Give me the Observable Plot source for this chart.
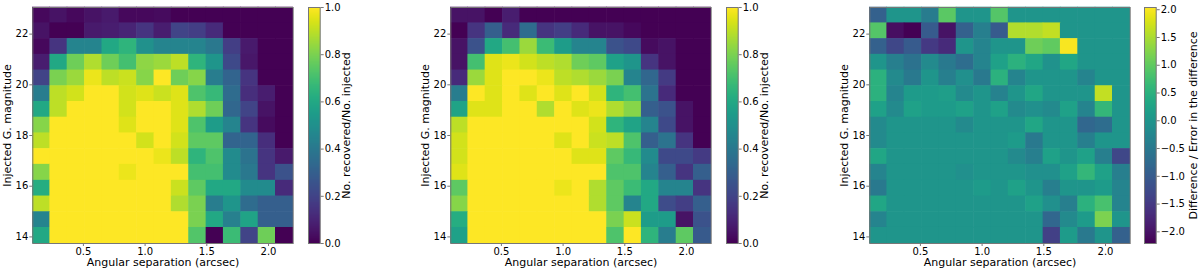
<!DOCTYPE html>
<html>
<head>
<meta charset="utf-8">
<script src="https://cdn.jsdelivr.net/npm/d3@7"></script>
<script src="https://cdn.jsdelivr.net/npm/@observablehq/plot@0.6"></script>
<style>
  html, body { margin: 0; padding: 0; background: white; }
  #wrap { position: relative; width: 1200px; height: 272px; overflow: hidden; }
  #wrap > div { position: absolute; top: 0; }
  #wrap svg { max-width: none !important; }
</style>
</head>
<body>
<div id="wrap"></div>
<script>
// ---- bin edges (arcsec, magnitude) ----
const xEdges = [0.09, 0.231, 0.371, 0.512, 0.653, 0.793, 0.934, 1.075, 1.215, 1.356, 1.497, 1.637, 1.778, 1.919, 2.059, 2.2];
const yEdges = [13.74, 14.36, 14.98, 15.60, 16.22, 16.85, 17.47, 18.09, 18.71, 19.33, 19.95, 20.57, 21.19, 21.81, 22.43, 23.05];
const xTicks = [0.5, 1.0, 1.5, 2.0];
const yTicks = [14, 16, 18, 20, 22];
const cbTicks12 = [0, 0.2, 0.4, 0.6, 0.8, 1.0];
const cbTicks3 = [-2.0, -1.5, -1.0, -0.5, 0.0, 0.5, 1.0, 1.5, 2.0];

// ---- panel 1: recovered fraction (rows listed top = faint to bottom = bright) ----
const recovered1 = [
  [0.02,0.05,0.02,0.05,0.07,0.02,0.02,0.03,0,0,0,0,0,0,0],
  [0.05,0,0,0.07,0.08,0.1,0.15,0.08,0.2,0.18,0.12,0,0,0,0],
  [0.02,0.15,0.45,0.45,0.6,0.65,0.5,0.45,0.45,0.45,0.4,0.18,0.07,0,0],
  [0.08,0.6,0.78,0.88,0.78,0.7,0.83,0.85,0.9,0.65,0.52,0.22,0.06,0,0],
  [0.2,0.8,0.85,0.97,0.9,0.92,0.82,1,0.78,0.82,0.42,0.32,0.15,0,0],
  [0.42,0.9,0.93,1,1,0.93,0.95,0.92,0.95,0.72,0.67,0.35,0.13,0.08,0],
  [0.6,0.9,1,1,1,0.93,1,1,0.95,0.88,0.78,0.33,0.2,0.05,0],
  [0.82,1,1,1,1,0.95,1,1,0.95,0.72,0.55,0.45,0.15,0.03,0],
  [0.9,1,1,1,1,1,0.93,1,0.93,0.75,0.75,0.32,0.32,0.13,0],
  [1,1,1,1,1,1,1,0.97,0.9,0.65,0.72,0.48,0.38,0.15,0.07],
  [0.82,1,1,1,1,0.97,1,1,1,0.7,0.7,0.48,0.4,0.15,0.25],
  [0.62,1,1,1,1,1,1,1,0.92,0.75,0.6,0.6,0.48,0.48,0.12],
  [0.9,1,1,1,1,1,1,1,0.88,0.8,0.42,0.52,0.35,0.3,0.3],
  [0.45,1,1,1,1,1,1,1,1,0.8,0.6,0.43,0.58,0.3,0.3],
  [0.6,1,1,1,1,1,1,1,1,0.73,0,0.68,0.2,0.78,0]
];

// ---- panel 2: recovered fraction ----
const recovered2 = [
  [0.05,0.05,0,0.08,0,0,0,0,0,0,0,0,0,0,0],
  [0,0.15,0.3,0.12,0.35,0.15,0.18,0.12,0.05,0.05,0.02,0,0,0,0],
  [0.05,0.25,0.6,0.7,0.85,0.68,0.55,0.45,0.45,0.25,0.22,0.03,0.05,0,0],
  [0.05,0.7,0.95,0.97,0.93,0.9,0.88,0.78,0.75,0.57,0.52,0.15,0.05,0,0],
  [0.12,0.85,0.95,1,1,0.97,0.9,0.88,0.85,0.8,0.45,0.33,0.17,0,0],
  [0.42,1,0.95,1,0.95,1,0.95,1,0.93,0.65,0.7,0.38,0.12,0,0],
  [0.58,0.95,0.95,1,1,0.88,1,0.95,0.97,0.88,0.82,0.3,0.25,0.05,0],
  [0.9,1,1,1,1,1,1,1,0.93,0.65,0.58,0.45,0.22,0.05,0],
  [0.93,1,1,1,1,1,0.95,1,0.92,0.9,0.72,0.3,0.38,0.15,0],
  [0.93,1,1,1,1,1,1,0.95,0.95,0.75,0.67,0.48,0.22,0.22,0.17],
  [0.95,1,1,1,1,1,1,1,1,0.72,0.72,0.45,0.3,0.15,0.3],
  [0.75,1,1,1,1,1,0.97,1,0.88,0.75,0.68,0.6,0.45,0.45,0.15],
  [0.82,1,1,1,1,1,1,1,0.88,0.75,0.45,0.6,0.23,0.18,0.3],
  [0.62,1,1,1,1,1,1,1,1,0.8,0.92,0.55,0.55,0.05,0.25],
  [0.57,1,1,1,1,1,1,1,1,0.72,1,0.65,0.42,0.75,0.28]
];

// ---- panel 3: difference / error ----
const diffRatio = [
  [-0.9,0,0,-0.45,0.95,0,0,0.9,0,0,0,0,0,0,0],
  [0.9,-2.05,-2.2,-1.0,-2.0,-0.9,-0.4,-1.0,1.55,1.55,1.65,0,0,0,0],
  [-0.9,-1.3,-1.0,-1.5,-1.7,0,-0.3,0,0,1.1,1.0,2.0,0,0,0],
  [0,-0.4,-0.6,-0.2,-0.5,-0.7,-0.3,0.2,0.5,0.3,-0.05,0.3,0,0,0],
  [0.5,-0.2,-0.5,0,-0.4,-0.1,-0.5,0.5,-0.3,0,0,0,-0.3,0,0],
  [0.5,-0.3,0.1,0.1,0.15,-0.2,0,-0.35,0,0.3,0,0,0,1.65,0],
  [0.2,-0.2,0.2,0.1,0.1,0.2,0,0.2,-0.2,-0.1,-0.2,0.2,-0.3,0.6,0],
  [-0.2,0,0,0,0,-0.2,0,0,0,0.3,0,0,-0.8,-0.7,0],
  [-0.2,0,0,0,0,0,0,0,0.1,-0.5,0,0,-0.4,0,0],
  [0.3,0,0,0,0,0,0,0,-0.2,-0.4,0.2,0,0.2,-0.4,-1.3],
  [-0.3,0,0,0,0,-0.1,0,0,0,-0.1,-0.1,0.2,0.6,0.2,-0.4],
  [-0.5,0,0,0,0,0,0.1,0,0.2,0,-0.4,0,0,0.1,-0.3],
  [0.3,0,0,0,0,0,0,0,0,0.2,-0.1,-0.4,0.5,0.8,-0.3],
  [-0.3,0,0,0,0,0,0,0,0,0,-0.8,-0.2,0.1,1.2,0],
  [0,0,0,0,0,0,0,0,0,0,-1.4,0.1,-0.5,0,-0.9]
];

const xLabel = "Angular separation (arcsec)";
const yLabel = "Injected G. magnitude";
const cbLabel12 = "No. recovered/No. injected";
const cbLabel3 = "Difference / Error in the difference";

const FONT = {fontFamily: "DejaVu Sans", fontSize: "10px", color: "black", background: "transparent", overflow: "visible", maxWidth: "none"};
const H = 272, MT = 7, MB = 29;
const EDGE = "#777";

function cells(grid) {
  const out = [];
  const n = grid.length;
  grid.forEach((row, r) => {
    const yi = n - 1 - r;
    row.forEach((v, c) => out.push({x1: xEdges[c], x2: xEdges[c + 1], y1: yEdges[yi], y2: yEdges[yi + 1], v}));
  });
  return out;
}

function heatmap(grid, domain) {
  return Plot.plot({
    width: 300, height: H,
    marginLeft: 32.3, marginRight: 7.3, marginTop: MT, marginBottom: MB,
    style: FONT,
    x: {domain: [xEdges[0], xEdges[xEdges.length - 1]]},
    y: {domain: [yEdges[0], yEdges[yEdges.length - 1]]},
    color: {type: "linear", scheme: "viridis", domain},
    marks: [
      Plot.rect(cells(grid), {x1: "x1", x2: "x2", y1: "y1", y2: "y2", fill: "v", inset: -0.3}),
      Plot.frame({stroke: EDGE}),
      Plot.axisX({ticks: xTicks, tickFormat: ".1f", tickSize: 3, tickPadding: 1, label: null, stroke: EDGE}),
      Plot.axisY({ticks: yTicks, tickFormat: "d", tickSize: 3, tickPadding: 1.5, label: null, stroke: EDGE}),
      Plot.text([xLabel], {text: d => d, frameAnchor: "bottom", dy: 19.4, textAnchor: "middle", lineAnchor: "middle", fontSize: 11}),
      Plot.text([yLabel], {text: d => d, frameAnchor: "left", dx: -25.6, rotate: -90, textAnchor: "middle", lineAnchor: "middle", fontSize: 11})
    ]
  });
}

function colorbar(domain, ticks, label, labelDx) {
  return Plot.plot({
    width: 80, height: H,
    marginLeft: 0, marginRight: 80 - 11.7, marginTop: MT, marginBottom: MB,
    style: FONT,
    x: {domain: [0, 1], axis: null},
    y: {domain},
    color: {type: "linear", scheme: "viridis", domain},
    marks: [
      Plot.raster({x1: 0, x2: 1, y1: domain[0], y2: domain[1], width: 1, height: 256, fill: (x, y) => y}),
      Plot.frame({stroke: EDGE}),
      Plot.axisY({anchor: "right", ticks, tickFormat: ".1f", tickSize: 3, tickPadding: 1.5, label: null, stroke: EDGE}),
      Plot.text([label], {text: d => d, frameAnchor: "right", dx: labelDx, rotate: -90, textAnchor: "middle", lineAnchor: "middle", fontSize: 11})
    ]
  });
}

const wrap = document.getElementById("wrap");
function place(node, left) {
  const d = document.createElement("div");
  d.style.left = left + "px";
  d.appendChild(node);
  wrap.appendChild(d);
}

place(heatmap(recovered1, [0, 1]), 0);
place(colorbar([0, 1], cbTicks12, cbLabel12, 26.7), 308.3);
place(heatmap(recovered2, [0, 1]), 418.4);
place(colorbar([0, 1], cbTicks12, cbLabel12, 26.7), 726);
place(heatmap(diffRatio, [-2.21, 2.04]), 836.7);
place(colorbar([-2.21, 2.04], cbTicks3, cbLabel3, 37.3), 1144.3);
</script>
</body>
</html>
